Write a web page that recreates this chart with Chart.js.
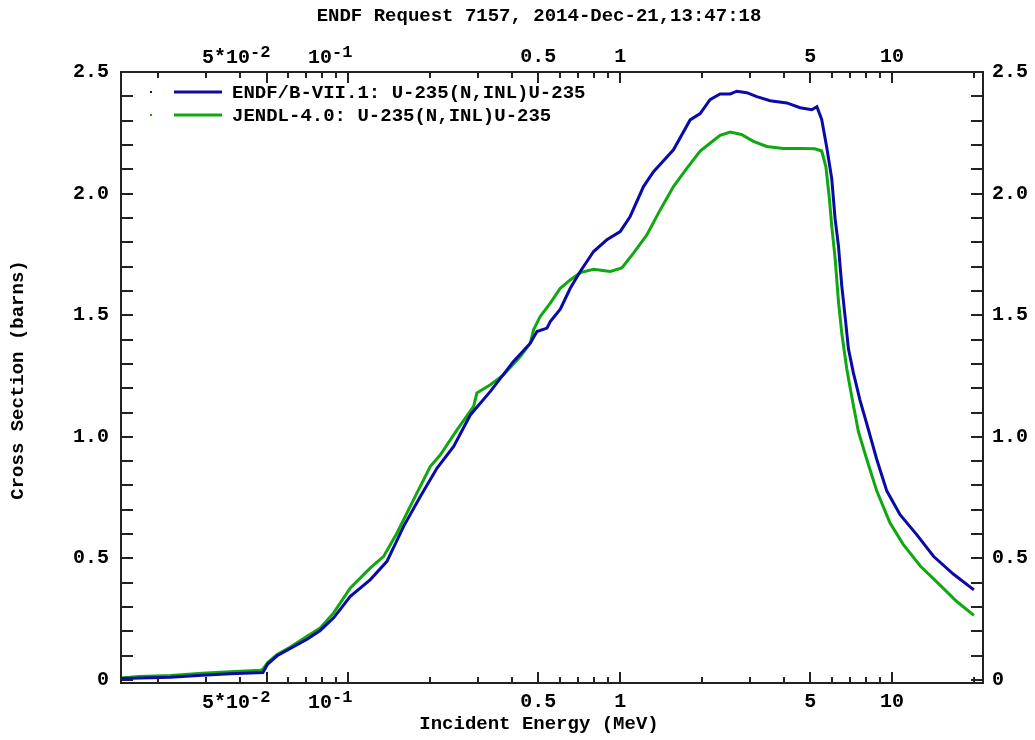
<!DOCTYPE html>
<html lang="en">
<head>
<meta charset="UTF-8">
<title>ENDF Request 7157</title>
<script src="https://cdn.jsdelivr.net/npm/chart.js"></script>
<style>
  body { margin: 0; background: #fff; }
  canvas { display: block; }
</style>
</head>
<body>
<canvas id="chart" width="1035" height="740"></canvas>
<script>
// ENDF/B-VII.1: U-235(N,INL)U-235  (MeV, barns)
const endfEnergy = [0.0146, 0.0222, 0.029, 0.0368, 0.0485, 0.0505, 0.0547, 0.0705, 0.0788, 0.0883,
  0.1017, 0.1205, 0.1387, 0.1597, 0.184, 0.212, 0.244, 0.281, 0.333, 0.405, 0.467, 0.494, 0.538,
  0.553, 0.602, 0.655, 0.713, 0.798, 0.893, 1.0, 1.088, 1.218, 1.326, 1.57, 1.808, 1.968, 2.14,
  2.33, 2.54, 2.685, 2.92, 3.18, 3.56, 4.1, 4.59, 5.07, 5.29, 5.51, 5.75, 6.0, 6.17, 6.35, 6.53,
  6.72, 6.91, 7.2, 7.62, 8.07, 8.78, 9.56, 10.7, 12.3, 14.2, 16.8, 20.0];
const endfSigma = [0.006, 0.012, 0.02, 0.026, 0.031, 0.066, 0.1, 0.168, 0.204, 0.256,
  0.344, 0.413, 0.488, 0.632, 0.755, 0.872, 0.961, 1.09, 1.187, 1.31, 1.385, 1.433, 1.447,
  1.474, 1.525, 1.611, 1.68, 1.762, 1.81, 1.844, 1.906, 2.029, 2.09, 2.18, 2.303, 2.329, 2.386,
  2.41, 2.41, 2.421, 2.415, 2.399, 2.382, 2.373, 2.353, 2.345, 2.357, 2.305, 2.191, 2.061, 1.898, 1.785, 1.622,
  1.493, 1.362, 1.265, 1.151, 1.054, 0.908, 0.778, 0.68, 0.599, 0.509, 0.436, 0.371];

// JENDL-4.0: U-235(N,INL)U-235
const jendlEnergy = [0.0146, 0.017, 0.0222, 0.029, 0.0368, 0.0475, 0.0485, 0.0505, 0.0547, 0.0612,
  0.0705, 0.0788, 0.0883, 0.1017, 0.1205, 0.1349, 0.151, 0.1738, 0.2001, 0.218, 0.251, 0.289,
  0.297, 0.333, 0.372, 0.429, 0.467, 0.48, 0.508, 0.553, 0.602, 0.655, 0.713, 0.798, 0.919,
  1.014, 1.119, 1.253, 1.403, 1.57, 1.758, 1.968, 2.14, 2.33, 2.54, 2.79, 3.09, 3.46, 3.98,
  4.59, 5.2, 5.51, 5.71, 5.88, 6.0, 6.17, 6.35, 6.53, 6.81, 7.1, 7.52, 8.07, 8.78, 9.82,
  10.99, 12.7, 14.6, 17.3, 20.0];
const jendlSigma = [0.009, 0.015, 0.019, 0.028, 0.034, 0.04, 0.045, 0.072, 0.105, 0.136,
  0.18, 0.214, 0.276, 0.379, 0.461, 0.509, 0.605, 0.742, 0.878, 0.926, 1.029, 1.125,
  1.18, 1.214, 1.255, 1.33, 1.385, 1.44, 1.495, 1.55, 1.611, 1.645, 1.675, 1.689, 1.68,
  1.694, 1.755, 1.83, 1.933, 2.029, 2.104, 2.175, 2.207, 2.24, 2.253, 2.243, 2.215, 2.194, 2.186,
  2.186, 2.184, 2.175, 2.11, 1.98, 1.866, 1.736, 1.557, 1.427, 1.281, 1.168, 1.021, 0.908, 0.778, 0.647,
  0.558, 0.469, 0.404, 0.323, 0.266];

// axis ticks
const xMajor = [0.05, 0.1, 0.5, 1, 5, 10];
const xMajorBase = ['5*10', '10', '0.5', '1', '5', '10'];
const xMajorSup = ['-2', '-1', '', '', '', ''];
const xMinor = [0.02, 0.03, 0.04, 0.06, 0.07, 0.08, 0.09, 0.2, 0.3, 0.4, 0.6, 0.7, 0.8, 0.9,
  2, 3, 4, 6, 7, 8, 9, 20];
const yLabelValues = [0, 0.5, 1.0, 1.5, 2.0, 2.5];
const yLabelTexts = ['0', '0.5', '1.0', '1.5', '2.0', '2.5'];

const title = 'ENDF Request 7157, 2014-Dec-21,13:47:18';
const xTitle = 'Incident Energy (MeV)';
const yTitle = 'Cross Section (barns)';
const seriesNames = ['ENDF/B-VII.1: U-235(N,INL)U-235', 'JENDL-4.0: U-235(N,INL)U-235'];
const seriesColors = ['#0a0aa8', '#10a810'];

const FONT = '"Liberation Mono", "DejaVu Sans Mono", monospace';

function toPoints(xs, ys) {
    return xs.map((x, i) => ({ x: x, y: ys[i] }));
}

// draws the frame, inward ticks, labels, titles and legend
const endfFrame = {
    id: 'endfFrame',
    afterDatasetsDraw(chart) {
        const ctx = chart.ctx;
        const a = chart.chartArea;
        const xs = chart.scales.x;
        const ys = chart.scales.y;
        ctx.save();
        ctx.strokeStyle = '#222';
        ctx.fillStyle = '#000';
        ctx.lineWidth = 2;
        ctx.strokeRect(a.left, a.top, a.right - a.left, a.bottom - a.top);

        // x ticks top and bottom, pointing inside
        ctx.beginPath();
        xMinor.forEach(v => {
            const px = Math.round(xs.getPixelForValue(v));
            ctx.moveTo(px, a.bottom); ctx.lineTo(px, a.bottom - 6);
            ctx.moveTo(px, a.top); ctx.lineTo(px, a.top + 6);
        });
        xMajor.forEach(v => {
            const px = Math.round(xs.getPixelForValue(v));
            ctx.moveTo(px, a.bottom); ctx.lineTo(px, a.bottom - 11);
            ctx.moveTo(px, a.top); ctx.lineTo(px, a.top + 11);
        });
        // y ticks every 0.1 on both sides
        for (let i = 0; i <= 25; i++) {
            const py = Math.round(ys.getPixelForValue(i / 10));
            ctx.moveTo(a.left, py); ctx.lineTo(a.left + 12, py);
            ctx.moveTo(a.right, py); ctx.lineTo(a.right - 12, py);
        }
        ctx.stroke();

        // x tick labels (top and bottom)
        ctx.textBaseline = 'middle';
        xMajor.forEach((v, i) => {
            const px = xs.getPixelForValue(v);
            const base = xMajorBase[i];
            const sup = xMajorSup[i];
            [57, 702].forEach(cy => {
                if (sup) {
                    ctx.font = 'bold 20px ' + FONT;
                    const wb = ctx.measureText(base).width;
                    ctx.font = 'bold 17px ' + FONT;
                    const ws = ctx.measureText(sup).width;
                    const x0 = px + 4 - wb - ws;
                    ctx.textAlign = 'left';
                    ctx.font = 'bold 20px ' + FONT;
                    ctx.fillText(base, x0, cy + 1);
                    ctx.font = 'bold 17px ' + FONT;
                    ctx.fillText(sup, x0 + wb, cy - 4);
                } else {
                    ctx.font = 'bold 20px ' + FONT;
                    ctx.textAlign = 'center';
                    ctx.fillText(base, px, cy);
                }
            });
        });

        // y tick labels (left and right)
        ctx.font = 'bold 20px ' + FONT;
        yLabelValues.forEach((v, i) => {
            const py = ys.getPixelForValue(v);
            ctx.textAlign = 'right';
            ctx.fillText(yLabelTexts[i], a.left - 12, py);
            ctx.textAlign = 'left';
            ctx.fillText(yLabelTexts[i], a.right + 9, py);
        });

        // titles
        ctx.font = 'bold 19px ' + FONT;
        ctx.textAlign = 'center';
        ctx.fillText(title, 539, 16);
        ctx.fillText(xTitle, 539, 724);
        ctx.save();
        ctx.translate(18, 380);
        ctx.rotate(-Math.PI / 2);
        ctx.fillText(yTitle, 0, 0);
        ctx.restore();

        // legend inside plot
        ctx.textAlign = 'left';
        [92, 115].forEach((ly, i) => {
            ctx.fillStyle = seriesColors[i];
            ctx.fillRect(150, ly - 1, 2, 2);
            ctx.strokeStyle = seriesColors[i];
            ctx.lineWidth = 3;
            ctx.beginPath();
            ctx.moveTo(174, ly); ctx.lineTo(222, ly);
            ctx.stroke();
            ctx.fillStyle = '#000';
            ctx.fillText(seriesNames[i], 232, ly + 1);
        });
        ctx.restore();
    }
};

const ctx = document.getElementById('chart').getContext('2d');
const chart = new Chart(ctx, {
    type: 'line',
    data: {
        datasets: [{
            label: seriesNames[0],
            data: toPoints(endfEnergy, endfSigma),
            borderColor: seriesColors[0],
            borderWidth: 3,
            pointRadius: 0,
            fill: false
        }, {
            label: seriesNames[1],
            data: toPoints(jendlEnergy, jendlSigma),
            borderColor: seriesColors[1],
            borderWidth: 3,
            pointRadius: 0,
            fill: false
        }]
    },
    options: {
        responsive: false,
        animation: false,
        layout: { padding: { left: 121, right: 52, top: 72, bottom: 57 } },
        scales: {
            x: { type: 'logarithmic', min: 0.01458, max: 21.6, display: false },
            y: { type: 'linear', min: -0.012, max: 2.5, display: false }
        },
        plugins: {
            legend: { display: false },
            title: { display: false },
            tooltip: { enabled: false }
        }
    },
    plugins: [endfFrame]
});
</script>
</body>
</html>
